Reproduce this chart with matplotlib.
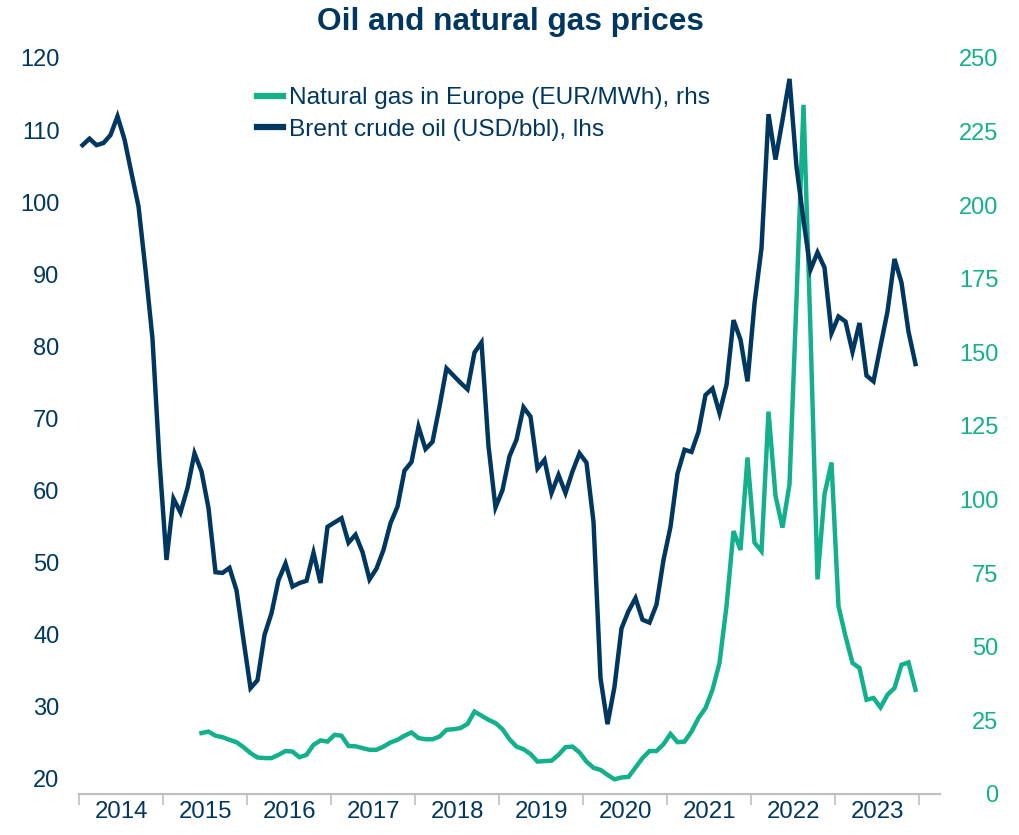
import numpy as np
import matplotlib.pyplot as plt
from matplotlib.lines import Line2D

plt.rcParams['font.family'] = ['Liberation Sans', 'DejaVu Sans']

NAVY = "#003761"
GREEN = "#12B08B"
GREY = "#BFBFBF"

# monthly data, Jan 2014 - Dec 2023
brent = [
    107.9, 108.8, 107.9, 108.2, 109.3, 111.9, 108.7, 104.0, 99.4, 90.6, 81.0, 64.0,
    50.3, 58.8, 56.9, 60.3, 65.1, 62.6, 57.5, 48.6, 48.5, 49.2, 46.1, 39.2,
    32.5, 33.6, 39.9, 42.9, 47.5, 49.8, 46.6, 47.1, 47.4, 51.3, 47.1, 54.9,
    55.5, 56.1, 52.7, 53.8, 51.4, 47.6, 49.1, 51.7, 55.4, 57.7, 62.7, 63.9,
    68.8, 65.7, 66.7, 71.6, 76.9, 75.9, 74.9, 74.0, 79.1, 80.5, 66.1, 57.6,
    60.0, 64.7, 67.0, 71.5, 70.2, 63.0, 64.2, 59.6, 62.1, 59.6, 62.6, 65.1,
    63.8, 55.6, 33.9, 27.5, 32.7, 40.8, 43.2, 45.0, 42.0, 41.6, 44.1, 50.3,
    54.9, 62.3, 65.6, 65.3, 68.1, 73.2, 74.1, 70.7, 74.6, 83.6, 80.9, 75.1,
    85.9, 93.6, 112.2, 105.9, 111.4, 117.1, 104.9, 97.5, 90.6, 93.0, 90.9, 81.8,
    84.1, 83.4, 79.2, 83.2, 75.9, 75.1, 80.0, 84.8, 92.1, 88.8, 82.0, 77.5,
]

# monthly data, Jun 2015 - Dec 2023
gas_start = 17
gas = [
    20.7, 21.2, 19.8, 19.3, 18.4, 17.6, 15.9,
    13.9, 12.4, 12.2, 12.2, 13.3, 14.6, 14.4, 12.5, 13.3, 16.7, 18.2, 17.8,
    20.1, 19.8, 16.3, 16.2, 15.6, 15.0, 15.0, 16.1, 17.5, 18.4, 19.8, 20.9,
    19.0, 18.6, 18.6, 19.5, 21.8, 22.0, 22.4, 23.8, 28.0, 26.6, 25.2, 24.1,
    22.0, 18.6, 16.1, 15.2, 13.6, 11.0, 11.2, 11.3, 13.3, 15.9, 16.1, 14.1,
    11.0, 8.9, 8.2, 6.5, 5.0, 5.6, 5.8, 9.0, 12.2, 14.6, 14.6, 16.9,
    20.4, 17.6, 17.8, 21.2, 25.8, 29.2, 35.4, 44.5, 63.8, 89.3, 82.9, 114.3,
    85.4, 82.5, 129.9, 101.3, 90.5, 105.2, 168.0, 234.1, 157.0, 72.9, 101.8, 112.6,
    63.8, 53.6, 44.5, 42.8, 32.0, 32.6, 29.4, 33.7, 36.0, 43.9, 44.7, 35.4,
]

years = list(range(2014, 2024))

x_brent = 2014 + (np.arange(len(brent)) + 0.5) / 12
x_gas = 2014 + (np.arange(len(gas)) + gas_start + 0.5) / 12

fig = plt.figure(figsize=(10.2, 8.35), dpi=100)
ax = fig.add_axes([79 / 1020, 1 - 794 / 835, (940 - 79) / 1020, (794 - 58) / 835])
ax2 = ax.twinx()

ax.plot(x_brent, brent, color=NAVY, lw=3.2, solid_joinstyle="miter", zorder=3)
ax2.plot(x_gas, gas, color=GREEN, lw=3.2, solid_joinstyle="miter", zorder=2)
ax.set_zorder(ax2.get_zorder() + 1)
ax.patch.set_visible(False)

ax.set_xlim(2014, 2024.25)
ax.set_ylim(17.8, 120)
ax2.set_ylim(0, 250)

ax.set_yticks(np.arange(20, 121, 10))
ax2.set_yticks(np.arange(0, 251, 25))

# year boundaries get tick marks, labels sit mid-year
ax.set_xticks(np.arange(2014, 2025), labels=[""] * 11)
ax.set_xticks(np.array(years) + 0.5, labels=[str(y) for y in years], minor=True)
ax.tick_params(axis="x", which="major", length=8, width=1.2, color=GREY)
ax.tick_params(axis="x", which="minor", length=0, labelsize=17.3, labelcolor=NAVY, pad=5)
ax.tick_params(axis="y", length=0, labelsize=17, labelcolor=NAVY, pad=14)
ax2.tick_params(axis="y", length=0, labelsize=17, labelcolor=GREEN, pad=42)
for lab in ax2.get_yticklabels():
    lab.set_horizontalalignment("right")

for a in (ax, ax2):
    for s in ("top", "left", "right"):
        a.spines[s].set_visible(False)
    a.spines["bottom"].set_color(GREY)
    a.spines["bottom"].set_linewidth(1.5)

fig.text(0.5, 1 - 22 / 835, "Oil and natural gas prices", ha="center", va="center",
         fontsize=22.8, fontweight="bold", color=NAVY)

handles = [
    Line2D([], [], color=GREEN, lw=4.5),
    Line2D([], [], color=NAVY, lw=4.5),
]
ax.legend(handles, ["Natural gas in Europe (EUR/MWh), rhs", "Brent crude oil (USD/bbl), lhs"],
          loc="upper left", bbox_to_anchor=(257 / 1020, 1 - 87 / 835), bbox_transform=fig.transFigure,
          frameon=False, fontsize=17.6, labelcolor=NAVY, handlelength=1.05, handletextpad=0.25,
          labelspacing=0.4, borderpad=0, borderaxespad=0)

fig.savefig("out.png", dpi=100)
